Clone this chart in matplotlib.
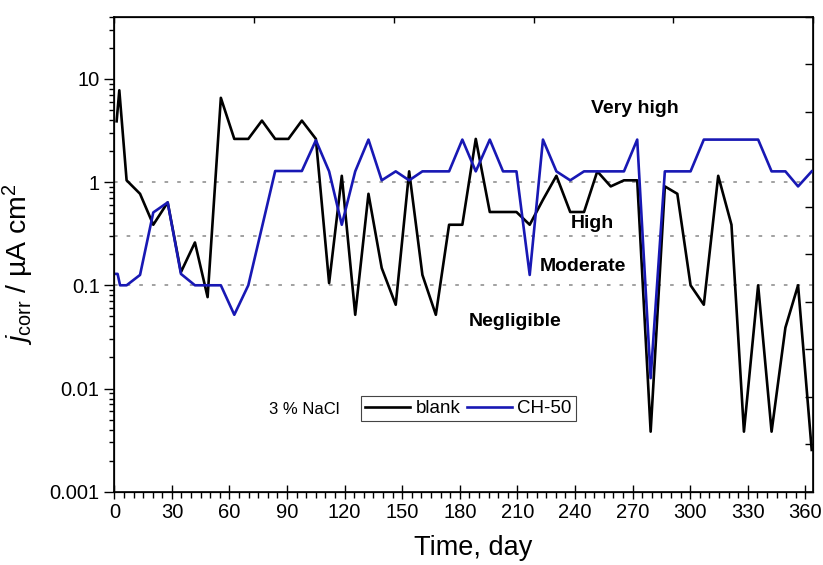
import numpy as np
import matplotlib
matplotlib.use("Agg")
import matplotlib.pyplot as plt
from matplotlib.ticker import FixedLocator, NullFormatter, LogLocator

plt.rcParams['font.family'] = ['Liberation Sans', 'DejaVu Sans']
plt.rcParams['mathtext.fontset'] = 'custom'
plt.rcParams['mathtext.rm'] = 'Liberation Sans'
plt.rcParams['mathtext.it'] = 'Liberation Sans:italic'

# corrosion current density, day vs uA cm^2
blank_day = [1.2, 2.6, 6.4, 13.4, 20.3, 27.8, 34.7, 42.0, 48.6, 55.5, 62.5, 69.8,
             76.9, 83.8, 90.7, 97.7, 105.0, 111.9, 118.5, 125.5, 132.4, 139.3,
             146.6, 153.6, 160.5, 167.5, 174.4, 181.3, 188.3, 195.6, 202.5,
             209.5, 216.4, 223.3, 230.3, 237.5, 244.7, 251.6, 258.6, 265.5,
             272.4, 279.4, 286.8, 293.3, 300.2, 307.1, 314.6, 321.5, 328.0,
             335.4, 342.4, 349.6, 356.2, 363.3]
blank_j = [3.88, 7.75, 1.04, 0.77, 0.386, 0.635, 0.134, 0.26, 0.0768, 6.55, 2.62, 2.62,
           3.94, 2.62, 2.62, 3.94, 2.62, 0.105, 1.15, 0.0518, 0.77, 0.147,
           0.0648, 1.27, 0.126, 0.0518, 0.386, 0.386, 2.62, 0.513, 0.513,
           0.513, 0.386, 0.674, 1.15, 0.513, 0.513, 1.27, 0.908, 1.04,
           1.04, 0.00382, 0.908, 0.77, 0.1, 0.0648, 1.15, 0.386, 0.00382,
           0.1, 0.00382, 0.0389, 0.1, 0.00254]

ch50_day = [0.5, 1.7, 3.0, 6.4, 13.4, 20.3, 27.8, 34.7, 42.0, 48.6, 55.5, 62.5, 69.8,
            76.9, 83.8, 90.7, 97.7, 105.0, 111.9, 118.5, 125.5, 132.4, 139.3,
            146.6, 153.6, 160.5, 167.5, 174.4, 181.3, 188.3, 195.6, 202.5,
            209.5, 216.4, 223.3, 230.3, 237.5, 244.7, 251.6, 258.6, 265.5,
            272.4, 279.4, 286.8, 293.3, 300.2, 307.1, 314.6, 321.5, 328.0,
            335.4, 342.4, 349.6, 356.2, 363.3]
ch50_j = [0.129, 0.129, 0.1, 0.1, 0.126, 0.508, 0.635, 0.129, 0.1, 0.1, 0.1, 0.0518, 0.1,
          0.364, 1.28, 1.28, 1.28, 2.54, 1.27, 0.386, 1.27, 2.58, 1.04,
          1.27, 1.04, 1.27, 1.27, 1.27, 2.58, 1.27, 2.58, 1.27,
          1.27, 0.126, 2.58, 1.27, 1.04, 1.27, 1.27, 1.27, 1.27,
          2.58, 0.0126, 1.27, 1.27, 1.27, 2.58, 2.58, 2.58, 2.58,
          2.58, 1.27, 1.27, 0.908, 1.27]

# corrosion level thresholds and their labels
levels = [1.0, 0.3, 0.1]
level_names = ["Very high", "High", "Moderate", "Negligible"]

fig = plt.figure(figsize=(8.23, 5.65), dpi=100)
ax = fig.add_axes([0.1389, 0.1297, 0.8490, 0.8407])

for lv in levels:
    ax.axhline(lv, color='#9a9a9a', lw=1.3, ls=(0, (2, 5)), zorder=1)

ax.plot(blank_day, blank_j, color='black', lw=1.9, label='blank', zorder=3)
ax.plot(ch50_day, ch50_j, color='#1818b4', lw=1.9, label='CH-50', zorder=4)

ax.set_yscale('log')
ax.set_xlim(0, 364)
ax.set_ylim(0.001, 40)
ax.set_xticks(np.arange(0, 361, 30))
ax.xaxis.set_minor_locator(FixedLocator(np.arange(0, 365, 5)))
ax.set_yticks([0.001, 0.01, 0.1, 1, 10])
ax.set_yticklabels(['0.001', '0.01', '0.1', '1', '10'])
ax.yaxis.set_minor_locator(LogLocator(base=10, subs=np.arange(2, 10)))
ax.yaxis.set_minor_formatter(NullFormatter())

ax.tick_params(axis='x', which='major', direction='inout', length=10, width=1,
               labelsize=14.5, pad=3, top=False)
ax.tick_params(axis='x', which='minor', direction='out', length=4, width=1, top=False)
ax.tick_params(axis='y', which='major', direction='out', length=7, width=1,
               labelsize=14.5, right=False)
ax.tick_params(axis='y', which='minor', direction='out', length=3.5, width=1, right=False)
for sp in ax.spines.values():
    sp.set_linewidth(1.2)

# mirrored frame ticks (unlabelled) on right and top
axr = ax.twinx()
axr.set_ylim(0, 10)
axr.set_yticks(np.arange(0, 11))
axr.yaxis.set_major_formatter(NullFormatter())
axr.tick_params(axis='y', direction='in', length=6, width=1)
axt = ax.twiny()
axt.set_xlim(0, 5)
axt.set_xticks(np.arange(0, 6))
axt.xaxis.set_major_formatter(NullFormatter())
axt.tick_params(axis='x', direction='in', length=4, width=1)

ax.set_xlabel('Time, day', fontsize=19.5)
ax.xaxis.set_label_coords(0.513, -0.092)
ax.set_ylabel(r'$j_{\mathrm{corr}}$ / µA cm$^{2}$', fontsize=20.5)
ax.yaxis.set_label_coords(-0.112, 0.48)

ax.text(271, 5.2, level_names[0], fontsize=14, fontweight='bold', ha='center', va='center')
ax.text(249, 0.40, level_names[1], fontsize=14, fontweight='bold', ha='center', va='center')
ax.text(244, 0.151, level_names[2], fontsize=14, fontweight='bold', ha='center', va='center')
ax.text(209, 0.0443, level_names[3], fontsize=14, fontweight='bold', ha='center', va='center')
ax.text(99, 0.0062, '3 % NaCl', fontsize=12, ha='center', va='center')

leg = ax.legend(loc='lower left', bbox_to_anchor=(0.353, 0.149), borderaxespad=0,
                ncol=2, fontsize=13.5, handlelength=2.4, handletextpad=0.3,
                columnspacing=0.35, borderpad=0.2, fancybox=False, framealpha=1)
leg.get_frame().set_edgecolor('#444444')
leg.get_frame().set_linewidth(0.8)

fig.savefig('out.png', dpi=100)
